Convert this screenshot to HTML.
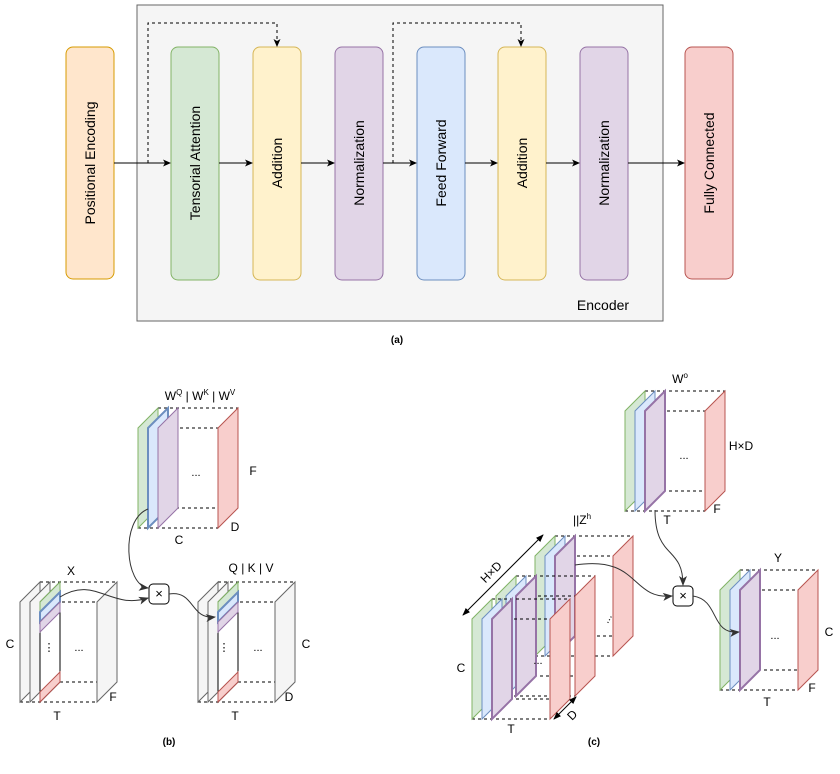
<!DOCTYPE html>
<html><head><meta charset="utf-8"><style>
html,body{margin:0;padding:0;background:#fff}
svg{display:block}
text{font-family:"Liberation Sans",sans-serif;fill:#000}
</style></head><body>
<svg id="s" width="840" height="774" viewBox="0 0 840 774" xmlns="http://www.w3.org/2000/svg">
<defs>
<marker id="ar" markerWidth="8" markerHeight="8" refX="7" refY="4" orient="auto" markerUnits="userSpaceOnUse"><path d="M0,0.5 L8,4 L0,7.5 L2,4 Z" fill="#000"/></marker>
<marker id="ab" markerWidth="8" markerHeight="8" refX="7" refY="4" orient="auto-start-reverse" markerUnits="userSpaceOnUse"><path d="M0,1 L8,4 L0,7 Z" fill="#000"/></marker>
<marker id="ag" markerWidth="10" markerHeight="10" refX="9" refY="5" orient="auto" markerUnits="userSpaceOnUse"><path d="M0,1 L10,5 L0,9 L2.5,5 Z" fill="#333"/></marker>
</defs>
<!-- (a) -->
<rect x="137" y="5" width="526" height="316" fill="#f5f5f5" stroke="#666" stroke-width="1"/>
<g stroke-width="1">
<rect x="66" y="47" width="48" height="232" rx="7" fill="#ffe6cc" stroke="#d79b00"/>
<rect x="171" y="47" width="48" height="233" rx="7" fill="#d5e8d4" stroke="#82b366"/>
<rect x="253" y="47" width="48" height="233" rx="7" fill="#fff2cc" stroke="#d6b656"/>
<rect x="335" y="47" width="48" height="233" rx="7" fill="#e1d5e7" stroke="#9673a6"/>
<rect x="417" y="47" width="48" height="233" rx="7" fill="#dae8fc" stroke="#6c8ebf"/>
<rect x="498" y="47" width="48" height="233" rx="7" fill="#fff2cc" stroke="#d6b656"/>
<rect x="580" y="47" width="48" height="233" rx="7" fill="#e1d5e7" stroke="#9673a6"/>
<rect x="685" y="47" width="48" height="232" rx="7" fill="#f8cecc" stroke="#b85450"/>
</g>
<g stroke="#000" fill="none" stroke-width="1">
<path d="M114,163 H170" marker-end="url(#ar)"/>
<path d="M219,163 H252" marker-end="url(#ar)"/>
<path d="M301,163 H334" marker-end="url(#ar)"/>
<path d="M383,163 H416" marker-end="url(#ar)"/>
<path d="M465,163 H497" marker-end="url(#ar)"/>
<path d="M546,163 H579" marker-end="url(#ar)"/>
<path d="M628,163 H684" marker-end="url(#ar)"/>
<path d="M148,163 V23 H277 V46" stroke-dasharray="3,3" marker-end="url(#ar)"/>
<path d="M393,163 V23 H521 V46" stroke-dasharray="3,3" marker-end="url(#ar)"/>
</g>
<g font-size="14" text-anchor="middle">
<text transform="translate(95,163) rotate(-90)">Positional Encoding</text>
<text transform="translate(200,163) rotate(-90)">Tensorial Attention</text>
<text transform="translate(282,163) rotate(-90)">Addition</text>
<text transform="translate(364,163) rotate(-90)">Normalization</text>
<text transform="translate(446,163) rotate(-90)">Feed Forward</text>
<text transform="translate(527,163) rotate(-90)">Addition</text>
<text transform="translate(609,163) rotate(-90)">Normalization</text>
<text transform="translate(714,163) rotate(-90)">Fully Connected</text>
<text x="603" y="310">Encoder</text>
</g>
<text x="397" y="343" font-size="10" font-weight="bold" text-anchor="middle">(a)</text>
<text x="169" y="745" font-size="10" font-weight="bold" text-anchor="middle">(b)</text>
<text x="594" y="745" font-size="10" font-weight="bold" text-anchor="middle">(c)</text>
<g id="shapes"></g>
<g font-size="12" text-anchor="middle">
<text x="200" y="400">W<tspan font-size="8" dy="-5">Q</tspan><tspan dy="5"> | W</tspan><tspan font-size="8" dy="-5">K</tspan><tspan dy="5"> | W</tspan><tspan font-size="8" dy="-5">V</tspan></text>
<text x="253" y="475">F</text><text x="235" y="531">D</text><text x="179" y="544">C</text>
<text x="196" y="476" font-size="11">...</text>
<text x="71" y="575">X</text><text x="10" y="648">C</text><text x="57" y="720">T</text><text x="113" y="701">F</text>
<text x="49" y="651" font-size="11">⋮</text><text x="79" y="651" font-size="11">...</text>
<text x="251" y="572">Q | K | V</text><text x="306" y="648">C</text><text x="289" y="701">D</text><text x="235" y="720">T</text>
<text x="224" y="651" font-size="11">⋮</text><text x="258" y="651" font-size="11">...</text>
<text x="680" y="383">W<tspan font-size="8" dy="-5">o</tspan></text>
<text x="741" y="450">H×D</text><text x="667" y="524">T</text><text x="717" y="513">F</text>
<text x="684" y="459" font-size="11">...</text>
<text x="778" y="562">Y</text><text x="829" y="636">C</text><text x="812" y="692">F</text><text x="767" y="706">T</text>
<text x="775" y="639" font-size="11">...</text>
<text x="582" y="524">||Z<tspan font-size="8" dy="-5">h</tspan></text>
<text x="461" y="672">C</text><text x="511" y="733">T</text>
<text transform="translate(494,575) rotate(-45)">H×D</text>
<text transform="translate(575,718) rotate(-45)">D</text>
<text transform="translate(610,620) rotate(-60)" font-size="11">...</text>
<text x="538" y="664" font-size="11">...</text>
</g>
</svg>
<script>
var g=document.getElementById('shapes'),NS='http://www.w3.org/2000/svg';
function el(t,a){var e=document.createElementNS(NS,t);for(var k in a)e.setAttribute(k,a[k]);g.appendChild(e);return e;}
function slab(x,yf,h,fill,stroke,sw,d){d=d||20;el('polygon',{points:[x,yf,x+d,yf-d,x+d,yf-d+h,x,yf+h].join(' '),fill:fill,stroke:stroke,'stroke-width':sw||1});}
function dl(x1,y1,x2,y2){el('line',{x1:x1,y1:y1,x2:x2,y2:y2,stroke:'#000','stroke-dasharray':'3,3','stroke-width':1});}
var G=['#d5e8d4','#82b366'],B=['#dae8fc','#6c8ebf'],P=['#e1d5e7','#9673a6'],R=['#f8cecc','#b85450'],GR=['#f5f5f5','#666'];
function block(x,yf,h,rdx,sl){
 dl(x+20,yf-20,x+rdx+20,yf-20);dl(x,yf,x+rdx,yf);dl(x,yf+h,x+rdx,yf+h);dl(x+20,yf+h-20,x+rdx+20,yf+h-20);
 sl.forEach(function(s){slab(x+s[0],yf,h,s[1][0],s[1][1],s[2]);});
 slab(x+rdx,yf,h,R[0],R[1],1);
}
var std=[[0,G,1],[10,B,1],[20,P,2]];
block(138,428,100,80,[[0,G,1],[10,B,2],[20,P,1]]);
function xb(x){
 dl(x+20,582,x+97,582);dl(x,602,x+77,602);dl(x,702,x+77,702);dl(x+40,682,x+77,682);
 slab(x,602,100,GR[0],GR[1],1);slab(x+10,602,100,GR[0],GR[1],1);
 slab(x+20,602,100,'#fff','#000',1);
 slab(x+20,602,10,G[0],G[1],1);slab(x+20,612,10,B[0],B[1],2);slab(x+20,622,10,P[0],P[1],1);slab(x+20,692,10,R[0],R[1],1);
 slab(x+77,602,100,GR[0],GR[1],1);
}
xb(20);xb(198);
el('rect',{x:149,y:584,width:20,height:20,rx:4,fill:'#fff',stroke:'#000'});
el('text',{x:159,y:598,'font-size':13,'text-anchor':'middle','font-family':'Liberation Sans'}).textContent='×';
el('path',{d:'M148,509 C120,520 125,585 148,588',fill:'none',stroke:'#333','marker-end':'url(#ag)'});
el('path',{d:'M60,597 C95,575 110,610 148,598',fill:'none',stroke:'#333','marker-end':'url(#ag)'});
el('path',{d:'M169,594 C195,590 190,620 215,617',fill:'none',stroke:'#333','marker-end':'url(#ag)'});
block(625,411,100,80,std);
block(720,590,100,78,std);
block(535,556,100,78,std);
block(496,596,100,79,std);
block(472,619,100,78,std);
el('rect',{x:673,y:586,width:20,height:20,rx:4,fill:'#fff',stroke:'#000'});
el('text',{x:683,y:600,'font-size':13,'text-anchor':'middle','font-family':'Liberation Sans'}).textContent='×';
el('path',{d:'M655,510 C655,560 683,545 683,585',fill:'none',stroke:'#333','marker-end':'url(#ag)'});
el('path',{d:'M575,565 C640,555 630,600 672,596',fill:'none',stroke:'#333','marker-end':'url(#ag)'});
el('path',{d:'M693,596 C720,600 710,635 739,632',fill:'none',stroke:'#333','marker-end':'url(#ag)'});
el('line',{x1:463,y1:615,x2:543,y2:535,stroke:'#000','marker-start':'url(#ab)','marker-end':'url(#ab)'});
el('line',{x1:554,y1:719,x2:576,y2:697,stroke:'#000','marker-start':'url(#ab)','marker-end':'url(#ab)'});
</script>
</body></html>
